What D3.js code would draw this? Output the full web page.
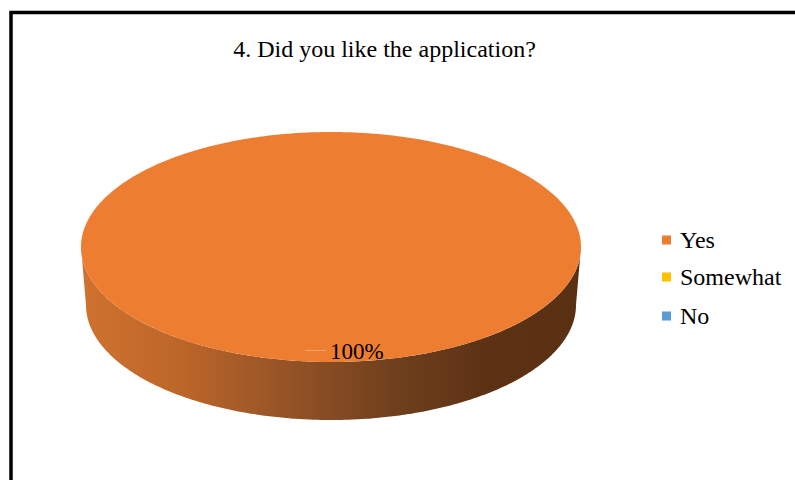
<!DOCTYPE html>
<html>
<head>
<meta charset="utf-8">
<script src="https://cdn.jsdelivr.net/npm/d3@7"></script>
<style>
html,body{margin:0;padding:0;background:#fff;}
svg{display:block;}
</style>
</head>
<body>
<svg id="chart" width="795" height="480"></svg>
<script>
const title = "4. Did you like the application?";
const categories = ["Yes", "Somewhat", "No"];
const values = [100, 0, 0];
const colors = ["#ED7D31", "#FFC000", "#5B9BD5"];

const svg = d3.select("#chart");
const FONT = "Liberation Serif, Times New Roman, serif";

// frame
svg.append("rect").attr("x", 11).attr("y", 12.5).attr("width", 800).attr("height", 500)
  .attr("fill", "#fff").attr("stroke", "#000").attr("stroke-width", 3.5);

svg.append("text").attr("x", 384.5).attr("y", 57).attr("text-anchor", "middle")
  .attr("font-family", FONT).attr("font-size", 24)
  .attr("fill", "#000").text(title);

const cx = 331, cy = 247, rx = 250, ry = 115, depth = 58, rxB = 245, ryB = 115;

const defs = svg.append("defs");
const grad = defs.append("linearGradient").attr("id", "sideGrad")
  .attr("gradientUnits", "userSpaceOnUse")
  .attr("x1", cx - rx).attr("x2", cx + rx).attr("y1", 0).attr("y2", 0);
[[0, "#D0722F"], [0.2, "#BC6629"], [0.38, "#9B5628"], [0.62, "#70401D"], [0.82, "#5C3114"], [1, "#5A3012"]]
  .forEach(([o, c]) => grad.append("stop").attr("offset", o).attr("stop-color", c));

const pie = d3.pie().sort(null).value(d => d)(values);

function pt(a, ex, ey, ecy) { return [cx + ex * Math.sin(a), ecy - ey * Math.cos(a)]; }
function arcPts(a0, a1, ex, ey, ecy) {
  const n = Math.max(2, Math.ceil((a1 - a0) / 0.01));
  return d3.range(n + 1).map(i => pt(a0 + (a1 - a0) * i / n, ex, ey, ecy));
}

// sides (front half only: angles pi/2 .. 3pi/2)
pie.forEach((d, i) => {
  if (d.endAngle - d.startAngle <= 0) return;
  const a0 = Math.max(d.startAngle, Math.PI / 2), a1 = Math.min(d.endAngle, 3 * Math.PI / 2);
  if (a1 <= a0) return;
  const top = arcPts(a0, a1, rx, ry, cy);
  const bot = arcPts(a0, a1, rxB, ryB, cy + depth).reverse();
  svg.append("path").attr("d", "M" + top.concat(bot).map(p => p.join(",")).join("L") + "Z")
    .attr("fill", "url(#sideGrad)");
});

// top faces
pie.forEach((d, i) => {
  if (d.endAngle - d.startAngle <= 0) return;
  const full = d.endAngle - d.startAngle >= 2 * Math.PI - 1e-6;
  const pts = arcPts(d.startAngle, d.endAngle, rx, ry, cy);
  const path = full ? "M" + pts.map(p => p.join(",")).join("L") + "Z"
    : "M" + cx + "," + cy + "L" + pts.map(p => p.join(",")).join("L") + "Z";
  svg.append("path").attr("d", path).attr("fill", colors[i]);
});

// labels
const total = d3.sum(values);
pie.forEach((d, i) => {
  if (d.value <= 0) return;
  const mid = (d.startAngle + d.endAngle) / 2;
  const [px, py] = pt(mid, rx * 0.9, ry * 0.9, cy);
  svg.append("line").attr("x1", px - 26).attr("x2", px - 5).attr("y1", py).attr("y2", py)
    .attr("stroke", "#F2A46E").attr("stroke-width", 1);
  svg.append("text").attr("x", px - 1).attr("y", py + 8)
    .attr("font-family", FONT).attr("font-size", 23)
    .attr("fill", "#000").text(Math.round(d.value / total * 100) + "%");
});

// legend
const leg = svg.append("g");
const legY = [240, 277, 316];
categories.forEach((c, i) => {
  leg.append("rect").attr("x", 662).attr("y", legY[i] - 4.5).attr("width", 9).attr("height", 9)
    .attr("fill", colors[i]);
  leg.append("text").attr("x", 680).attr("y", legY[i] + 8)
    .attr("font-family", FONT).attr("font-size", 24)
    .attr("fill", "#000").text(c);
});
</script>
</body>
</html>
